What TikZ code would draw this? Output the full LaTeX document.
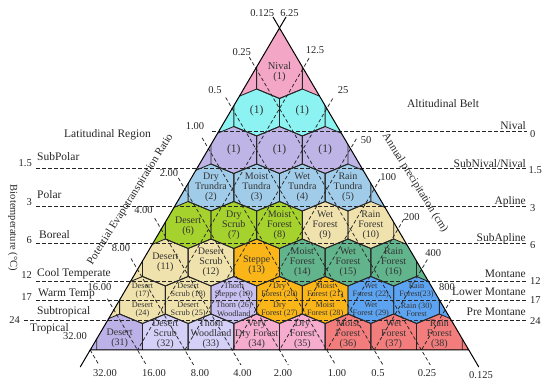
\documentclass[tikz,border=0pt]{standalone}
\usepackage{fontspec}
\setmainfont{Liberation Serif}
\usetikzlibrary{calc}
\definecolor{cNival}{RGB}{244,166,198}
\definecolor{cCyan}{RGB}{140,242,242}
\definecolor{cLav}{RGB}{190,180,230}
\definecolor{cLBlue}{RGB}{160,204,234}
\definecolor{cGreen}{RGB}{165,210,45}
\definecolor{cWheat}{RGB}{240,226,172}
\definecolor{cOrange}{RGB}{250,182,25}
\definecolor{cTeal}{RGB}{98,180,140}
\definecolor{cLavB}{RGB}{200,192,240}
\definecolor{cBlue}{RGB}{92,164,242}
\definecolor{cLavC}{RGB}{188,178,232}
\definecolor{cLavD}{RGB}{212,208,248}
\definecolor{cPink}{RGB}{246,172,206}
\definecolor{cSalmon}{RGB}{243,125,125}
% hexagon cell: row, index, colour, extend left, extend right
\newcommand{\hexcell}[5]{%
  \pgfmathsetmacro{\hcx}{279.5+(#2-(#1-1)/2)*45.67}%
  \pgfmathsetmacro{\hcy}{37.5+37.5*#1}%
  \fill[#3] ({\hcx},{\hcy-23.5}) -- ({\hcx+22.835},{\hcy-14}) -- ({\hcx+22.835},{\hcy+14}) -- ({\hcx},{\hcy+23.5}) -- ({\hcx-22.835},{\hcy+14}) -- ({\hcx-22.835},{\hcy-14}) -- cycle;%
  \ifnum#4=1 \fill[#3] ({\hcx-22.835},{\hcy-14}) -- ({\hcx-22.835},{\hcy+14}) -- ({\hcx-45.67},{\hcy+23.5}) -- ({\hcx-150},{\hcy+23.5}) -- ({\hcx-150},{\hcy-14}) -- cycle;\fi
  \ifnum#5=1 \fill[#3] ({\hcx+22.835},{\hcy-14}) -- ({\hcx+22.835},{\hcy+14}) -- ({\hcx+45.67},{\hcy+23.5}) -- ({\hcx+150},{\hcy+23.5}) -- ({\hcx+150},{\hcy-14}) -- cycle;\fi
}
\newcommand{\hexedge}[2]{%
  \pgfmathsetmacro{\hcx}{279.5+(#2-(#1-1)/2)*45.67}%
  \pgfmathsetmacro{\hcy}{37.5+37.5*#1}%
  \draw[hexline] ({\hcx},{\hcy-23.5}) -- ({\hcx+22.835},{\hcy-14}) -- ({\hcx+22.835},{\hcy+14}) -- ({\hcx},{\hcy+23.5}) -- ({\hcx-22.835},{\hcy+14}) -- ({\hcx-22.835},{\hcy-14}) -- cycle;%
}
% label: name, row, index, dy, style, text
\newcommand{\hexlabel}[6]{%
  \pgfmathsetmacro{\hlx}{279.5+(#3-(#2-1)/2)*45.67}%
  \pgfmathsetmacro{\hly}{37.5+37.5*#2+#4}%
  \node[#5] (#1) at (\hlx,\hly) {#6};%
}
\begin{document}
\begin{tikzpicture}[x=1pt,y=-1pt,
  hexline/.style={draw=black!85,line width=0.85pt,line join=round},
  guide/.style={draw=black!85,line width=0.75pt,dash pattern=on 3.6pt off 2.4pt},
  triline/.style={draw=black,line width=1pt},
  hl/.style={font=\fontsize{10}{10}\selectfont,align=center,inner sep=0pt,text=black!80},
  hone/.style={font=\fontsize{11.5}{11}\selectfont,align=center,inner sep=0pt,text=black!80},
  hs/.style={font=\fontsize{8.2}{8.6}\selectfont,align=center,inner sep=0pt,text=black!80},
  num/.style={font=\fontsize{10.5}{11}\selectfont,inner sep=0pt,text=black!85},
  nm/.style={font=\fontsize{11.5}{12}\selectfont,inner sep=0pt,text=black!85},
]
\useasboundingbox (0,0) rectangle (550,385);
\coordinate (A) at (279.5,28);
\coordinate (BL) at (90.2,350);
\coordinate (BR) at (468.8,350);

\begin{scope}
\clip (A) -- (BL) -- (BR) -- cycle;
\fill[cNival] (A) -- (BL) -- (BR) -- cycle;
\hexcell{2}{0}{cCyan}{1}{0}\hexcell{2}{1}{cCyan}{0}{1}
\hexcell{3}{0}{cLav}{1}{0}\hexcell{3}{1}{cLav}{0}{0}\hexcell{3}{2}{cLav}{0}{1}
\hexcell{4}{0}{cLBlue}{1}{0}\hexcell{4}{1}{cLBlue}{0}{0}\hexcell{4}{2}{cLBlue}{0}{0}\hexcell{4}{3}{cLBlue}{0}{1}
\hexcell{5}{0}{cGreen}{1}{0}\hexcell{5}{1}{cGreen}{0}{0}\hexcell{5}{2}{cGreen}{0}{0}\hexcell{5}{3}{cWheat}{0}{0}\hexcell{5}{4}{cWheat}{0}{1}
\hexcell{6}{0}{cWheat}{1}{0}\hexcell{6}{1}{cWheat}{0}{0}\hexcell{6}{2}{cOrange}{0}{0}\hexcell{6}{3}{cTeal}{0}{0}\hexcell{6}{4}{cTeal}{0}{0}\hexcell{6}{5}{cTeal}{0}{1}
\hexcell{7}{0}{cWheat}{1}{0}\hexcell{7}{1}{cWheat}{0}{0}\hexcell{7}{2}{cLavB}{0}{0}\hexcell{7}{3}{cOrange}{0}{0}\hexcell{7}{4}{cOrange}{0}{0}\hexcell{7}{5}{cBlue}{0}{0}\hexcell{7}{6}{cBlue}{0}{1}
\hexcell{8}{0}{cLavC}{1}{0}\hexcell{8}{1}{cLavD}{0}{0}\hexcell{8}{2}{cLavD}{0}{0}\hexcell{8}{3}{cPink}{0}{0}\hexcell{8}{4}{cPink}{0}{0}\hexcell{8}{5}{cSalmon}{0}{0}\hexcell{8}{6}{cSalmon}{0}{0}\hexcell{8}{7}{cSalmon}{0}{1}
\foreach \k in {2,...,8}{\pgfmathtruncatemacro{\kk}{\k-1}\foreach \j in {0,...,\kk}{\hexedge{\k}{\j}}}
\draw[hexline] (256.665,61) -- (256.665,89) -- (279.5,98.5) -- (302.335,89) -- (302.335,61);
\end{scope}

% potential evapotranspiration ratio guides
\foreach \m in {1,...,7}{
  \coordinate (L\m) at ({279.5-23.6625*\m},{28+40.25*\m});
  \coordinate (B\m) at ({468.8-47.325*\m},350);
  \draw[guide] ($(L\m)+(-6.5,-11)$) -- ($(B\m)+(8.8,15)$);
}
\draw[guide] (BL) -- ($(BL)+(8.8,15)$);
% precipitation guides
\foreach \n in {1,...,7}{
  \coordinate (R\n) at ({279.5+23.6625*\n},{28+40.25*\n});
  \coordinate (P\n) at ({90.2+47.325*\n},350);
  \draw[guide] ($(R\n)+(5.9,-10)$) -- (P\n);
}
% biotemperature guides
\foreach \i/\yy/\xs in {0/131.25/212,1/168.75/36,2/206.25/36,3/243.75/36,4/281.25/36,5/300/36,6/320/24}{
  \coordinate (H\i a) at (\xs,\yy);
  \coordinate (H\i b) at (527,\yy);
  \draw[guide] (H\i a) -- (H\i b);
}
% triangle
\draw[triline,line join=miter] (A) -- (BL) -- (BR) -- cycle;
\draw[triline] (A) -- ($(A)+(6.5,-11)$);
\draw[triline] (A) -- ($(A)+(-6.5,-11)$);
\draw[triline] (BL) -- ($(BL)+(-10,17)$);
\draw[triline] (BR) -- ($(BR)+(10,17)$);

% hexagon labels
\hexlabel{z1}{1}{0}{-3.5}{hl,font=\fontsize{10.5}{10}\selectfont}{Nival\\(1)}
\hexlabel{z1a}{2}{0}{-2}{hone}{(1)}
\hexlabel{z1b}{2}{1}{-2}{hone}{(1)}
\hexlabel{z1c}{3}{0}{0}{hone}{(1)}
\hexlabel{z1d}{3}{1}{0}{hone}{(1)}
\hexlabel{z1e}{3}{2}{0}{hone}{(1)}
\hexlabel{z2}{4}{0}{0}{hl}{Dry\\Trundra\\(2)}
\hexlabel{z3}{4}{1}{0}{hl}{Moist\\Tundra\\(3)}
\hexlabel{z4}{4}{2}{0}{hl}{Wet\\Tundra\\(4)}
\hexlabel{z5}{4}{3}{0}{hl}{Rain\\Tundra\\(5)}
\hexlabel{z6}{5}{0}{1}{hl}{Desert\\(6)}
\hexlabel{z7}{5}{1}{0}{hl}{Dry\\Scrub\\(7)}
\hexlabel{z8}{5}{2}{0}{hl}{Moist\\Forest\\(8)}
\hexlabel{z9}{5}{3}{0}{hl}{Wet\\Forest\\(9)}
\hexlabel{z10}{5}{4}{0}{hl}{Rain\\Forest\\(10)}
\hexlabel{z11}{6}{0}{0}{hl}{Desert\\(11)}
\hexlabel{z12}{6}{1}{0}{hl}{Desert\\Scrub\\(12)}
\hexlabel{z13}{6}{2}{3}{hl}{Steppe\\(13)}
\hexlabel{z14}{6}{3}{0}{hl}{Moist\\Forest\\(14)}
\hexlabel{z15}{6}{4}{0}{hl}{Wet\\Forest\\(15)}
\hexlabel{z16}{6}{5}{0}{hl}{Rain\\Forest\\(16)}
\hexlabel{z17}{7}{0}{-9.5}{hs}{Desert\\(17)}
\hexlabel{z18}{7}{1}{-9.5}{hs}{Desert\\Scrub (18)}
\hexlabel{z19}{7}{2}{-9.5}{hs}{Thorn\\Steppe (19)}
\hexlabel{z20}{7}{3}{-9.5}{hs}{Dry\\Forest (20)}
\hexlabel{z21}{7}{4}{-9.5}{hs}{Moist\\Forest (21)}
\hexlabel{z22}{7}{5}{-9.5}{hs}{Wet\\Forest (22)}
\hexlabel{z23}{7}{6}{-9.5}{hs}{Rain\\Forest(23)}
\hexlabel{z24}{7}{0}{9.5}{hs}{Desert\\(24)}
\hexlabel{z25}{7}{1}{9.5}{hs}{Desert\\Scrub (25)}
\hexlabel{z26}{7}{2}{9.5}{hs}{Thorn (26)\\Woodland}
\hexlabel{z27}{7}{3}{9.5}{hs}{Dry\\Forest (27)}
\hexlabel{z28}{7}{4}{9.5}{hs}{Moist\\Forest (28)}
\hexlabel{z29}{7}{5}{9.5}{hs}{Wet\\Forest (29)}
\hexlabel{z30}{7}{6}{9.5}{hs}{Rain (30)\\Forest}
\hexlabel{z31}{8}{0}{0.5}{hl}{Desert\\(31)}
\hexlabel{z32}{8}{1}{-3.5}{hl}{Desert\\Scrub\\(32)}
\hexlabel{z33}{8}{2}{-3.5}{hl}{Thorn\\Woodland\\(33)}
\hexlabel{z34}{8}{3}{-3.5}{hl}{Very\\Dry Forest\\(34)}
\hexlabel{z35}{8}{4}{-3.5}{hl}{Dry\\Forest\\(35)}
\hexlabel{z36}{8}{5}{-3.5}{hl}{Moist\\Forest\\(36)}
\hexlabel{z37}{8}{6}{-3.5}{hl}{Wet\\Forest\\(37)}
\hexlabel{z38}{8}{7}{-3.5}{hl}{Rain\\Forest\\(38)}

% axis values
\node[num] (ta) at (262.3,12.7) {0.125};
\node[num] (tb) at (289.5,12.7) {6.25};
\node[num] (pl1) at (241.7,51.7) {0.25};
\node[num] (pl2) at (215,90) {0.5};
\node[num] (pl3) at (195,126) {1.00};
\node[num] (pl4) at (169,173.3) {2.00};
\node[num] (pl5) at (143.5,210) {4.00};
\node[num] (pl6) at (121,248.3) {8.00};
\node[num] (pl7) at (99.5,286.7) {16.00};
\node[num] (pl8) at (75,336) {32.00};
\node[num] (pr1) at (315,50) {12.5};
\node[num] (pr2) at (343,90) {25};
\node[num] (pr3) at (366,140) {50};
\node[num] (pr4) at (388.3,176.7) {100};
\node[num] (pr5) at (411.7,217.3) {200};
\node[num] (pr6) at (433.3,253.3) {400};
\node[num] (pr7) at (447,287) {800};
\node[num] (pb8) at (105,373) {32.00};
\node[num] (pb7) at (154,373) {16.00};
\node[num] (pb6) at (200,373) {8.00};
\node[num] (pb5) at (242.5,373) {4.00};
\node[num] (pb4) at (283,373.5) {2.00};
\node[num] (pb3) at (337,373) {1.00};
\node[num] (pb2) at (378,373) {0.5};
\node[num] (pb1) at (427,373) {0.25};
\node[num] (pb0) at (481,375) {0.125};

% left: latitudinal regions
\node[nm] (latr) at (107.5,135) {Latitudinal Region};
\node[num,anchor=base east] (lv1) at (32,167) {1.5};
\node[num,anchor=base east] (lv2) at (32,205.4) {3};
\node[num,anchor=base east] (lv3) at (32,243.7) {6};
\node[num,anchor=base east] (lv4) at (32,278.7) {12};
\node[num,anchor=base east] (lv5) at (32,300.4) {17};
\node[num,anchor=base east] (lv6) at (20,323.7) {24};
\node[nm,anchor=base west] (ln1) at (37,161) {SubPolar};
\node[nm,anchor=base west] (ln2) at (37,199) {Polar};
\node[nm,anchor=base west] (ln3) at (39,238.8) {Boreal};
\node[nm,anchor=base west] (ln4) at (37,276.1) {Cool Temperate};
\node[nm,anchor=base west] (ln5) at (38,296.5) {Warm Temp};
\node[nm,anchor=base west] (ln6) at (37,314.8) {Subtropical};
\node[nm,anchor=base west] (ln7) at (30,331.8) {Tropical};

% right: altitudinal belts
\node[nm] (altb) at (443,104) {Altitudinal Belt};
\node[nm,anchor=base east] (rn0) at (526,130) {Nival};
\node[nm,anchor=base east] (rn1) at (526,167.5) {SubNival/Nival};
\node[nm,anchor=base east] (rn2) at (526,205) {Apline};
\node[nm,anchor=base east] (rn3) at (526,242) {SubApline};
\node[nm,anchor=base east] (rn4) at (526,278) {Montane};
\node[nm,anchor=base east] (rn5) at (526,295.5) {Lower Montane};
\node[nm,anchor=base east] (rn6) at (526,315.5) {Pre Montane};
\node[num,anchor=base west] (rv0) at (530,137.5) {0};
\node[num,anchor=base west] (rv1) at (528.5,173.5) {1.5};
\node[num,anchor=base west] (rv2) at (530,211.5) {3};
\node[num,anchor=base west] (rv3) at (530,248.5) {6};
\node[num,anchor=base west] (rv4) at (530,285) {12};
\node[num,anchor=base west] (rv5) at (530,303.5) {17};
\node[num,anchor=base west] (rv6) at (530,325) {24};

% axis titles
\node[font=\fontsize{11}{11}\selectfont,inner sep=0pt,text=black!85,rotate=58] (pet) at (130.5,199.5) {Potential Evapotranspiration Ratio};
\node[font=\fontsize{11}{11}\selectfont,inner sep=0pt,text=black!85,rotate=-58] (app) at (415,183) {Annual precipitation (cm)};
\node[font=\fontsize{10.5}{11}\selectfont,inner sep=0pt,text=black!85,rotate=-90] (bio) at (13,228) {Biotemperature (°C)};
\end{tikzpicture}
\end{document}
